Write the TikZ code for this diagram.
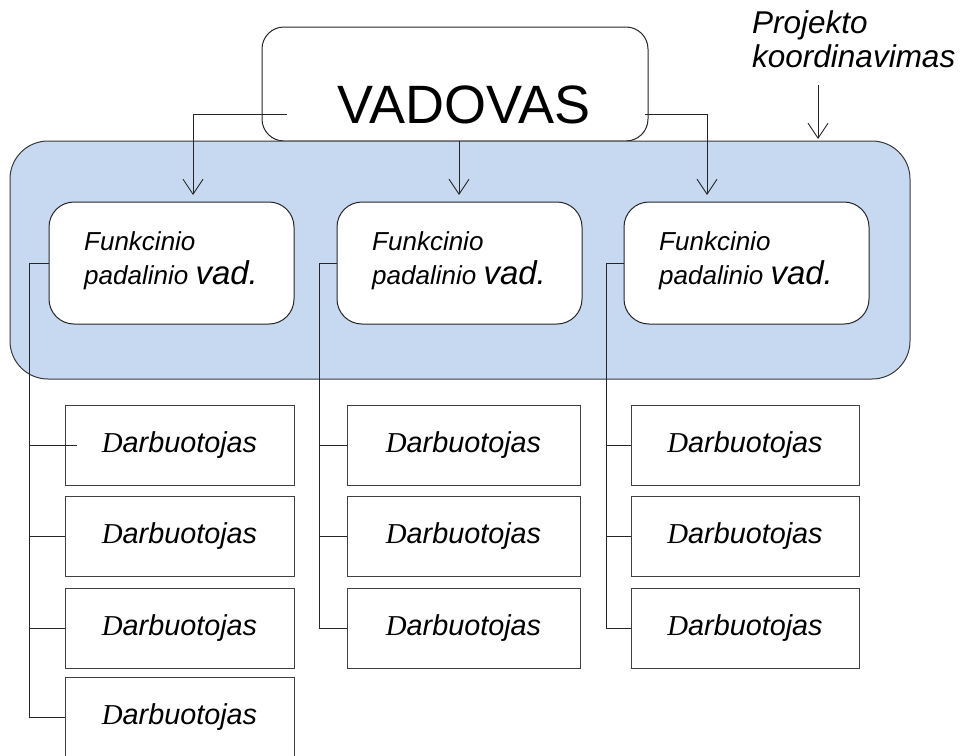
\documentclass[tikz,border=0pt]{standalone}
\usepackage{fontspec}
\setmainfont{Liberation Sans}
\newfontfamily\timesfam{Liberation Serif}
\usetikzlibrary{arrows.meta,calc}

\definecolor{panelblue}{HTML}{C6D9F1}
\definecolor{edgegray}{HTML}{3A3A3A}

\newcommand{\staff}{{\timesfam\itshape D}arbuotojas}

\begin{document}
\begin{tikzpicture}[x=1pt,y=-1pt,
  line/.style={line width=1pt, draw=black!85},
  tip/.style={-{Straight Barb[length=15pt,width=20pt,line width=0.9pt]}},
  headbox/.style={draw=black!85, line width=1pt, fill=white, rounded corners=22pt,
    minimum width=386pt, minimum height=114pt, inner sep=0pt},
  panel/.style={draw=edgegray, line width=1pt, fill=panelblue, rounded corners=38pt,
    minimum width=900pt, minimum height=238pt, inner sep=0pt},
  unitbox/.style={draw=black!85, line width=1pt, fill=white, rounded corners=25pt,
    minimum width=245pt, minimum height=122pt, inner sep=0pt},
  unittext/.style={align=left, anchor=base west, inner sep=0pt,
    font=\fontsize{26}{34}\selectfont\itshape},
  staffbox/.style={draw=black!75, line width=1pt, fill=white, minimum height=80pt,
    inner sep=0pt, font=\fontsize{28.8}{34}\selectfont\itshape},
]
\useasboundingbox (0,0) rectangle (963,755);

% head of the organisation
\node[headbox] (head) at (455,84) {};
\node[anchor=base, inner sep=0pt, font=\fontsize{54}{60}\selectfont] (headtxt) at (464,123) {VADOVAS};

% project coordination area
\node[panel] (panel) at (460,260) {};

% functional units (text anchored on the baseline of its last line)
\node[unitbox] (u1) at (171.5,263) {};
\node[unitbox] (u2) at (459.5,263) {};
\node[unitbox] (u3) at (746.5,263) {};
\node[unittext] (u1t) at (84,284) {Funkcinio\\padalinio {\fontsize{33}{34}\selectfont vad.}};
\node[unittext] (u2t) at (372,284) {Funkcinio\\padalinio {\fontsize{33}{34}\selectfont vad.}};
\node[unittext] (u3t) at (659,284) {Funkcinio\\padalinio {\fontsize{33}{34}\selectfont vad.}};

% coordination label
\node[unittext, font=\fontsize{31.5}{34}\selectfont\itshape] (coord) at (752,67) {Projekto\\koordinavimas};

% arrows from the head to the units
\coordinate (hl) at (287,114);
\coordinate (hr) at (645,114);
\coordinate (a1) at (193,195);
\coordinate (a2) at (459,195);
\coordinate (a3) at (707,195);
\coordinate (cs) at (818,85);
\coordinate (ce) at (818,139);
\draw[line,tip] (hl) -| (a1);
\draw[line,tip] (a2 |- panel.north) -- (a2);
\draw[line,tip] (hr) -| (a3);
\draw[line,tip] (cs) -- (ce);

% staff, first unit
\node[staffbox, minimum width=229pt] (s11) at (179.5,445) {\staff};
\node[staffbox, minimum width=229pt] (s12) at (179.5,536.5) {\staff};
\node[staffbox, minimum width=229pt] (s13) at (179.5,628) {\staff};
\node[staffbox, minimum width=229pt] (s14) at (179.5,717) {\staff};
% staff, second unit
\node[staffbox, minimum width=233pt] (s21) at (463.5,445) {\staff};
\node[staffbox, minimum width=233pt] (s22) at (463.5,536.5) {\staff};
\node[staffbox, minimum width=233pt] (s23) at (463.5,628) {\staff};
% staff, third unit
\node[staffbox, minimum width=228pt] (s31) at (745,445) {\staff};
\node[staffbox, minimum width=228pt] (s32) at (745,536.5) {\staff};
\node[staffbox, minimum width=228pt] (s33) at (745,628) {\staff};

% subordination trees
\draw[line] (u1.west) -- ++(-19,0) coordinate (t1) -- (t1 |- s14.west) -- (s14.west);
\draw[line] (t1 |- s11.west) -- ($(s11.west)+(12,0)$);
\draw[line] (t1 |- s12.west) -- (s12.west);
\draw[line] (t1 |- s13.west) -- (s13.west);

\draw[line] (u2.west) -- ++(-17,0) coordinate (t2) -- (t2 |- s23.west) -- (s23.west);
\draw[line] (t2 |- s21.west) -- (s21.west);
\draw[line] (t2 |- s22.west) -- (s22.west);

\draw[line] (u3.west) -- ++(-17,0) coordinate (t3) -- (t3 |- s33.west) -- (s33.west);
\draw[line] (t3 |- s31.west) -- (s31.west);
\draw[line] (t3 |- s32.west) -- (s32.west);
\end{tikzpicture}
\end{document}
